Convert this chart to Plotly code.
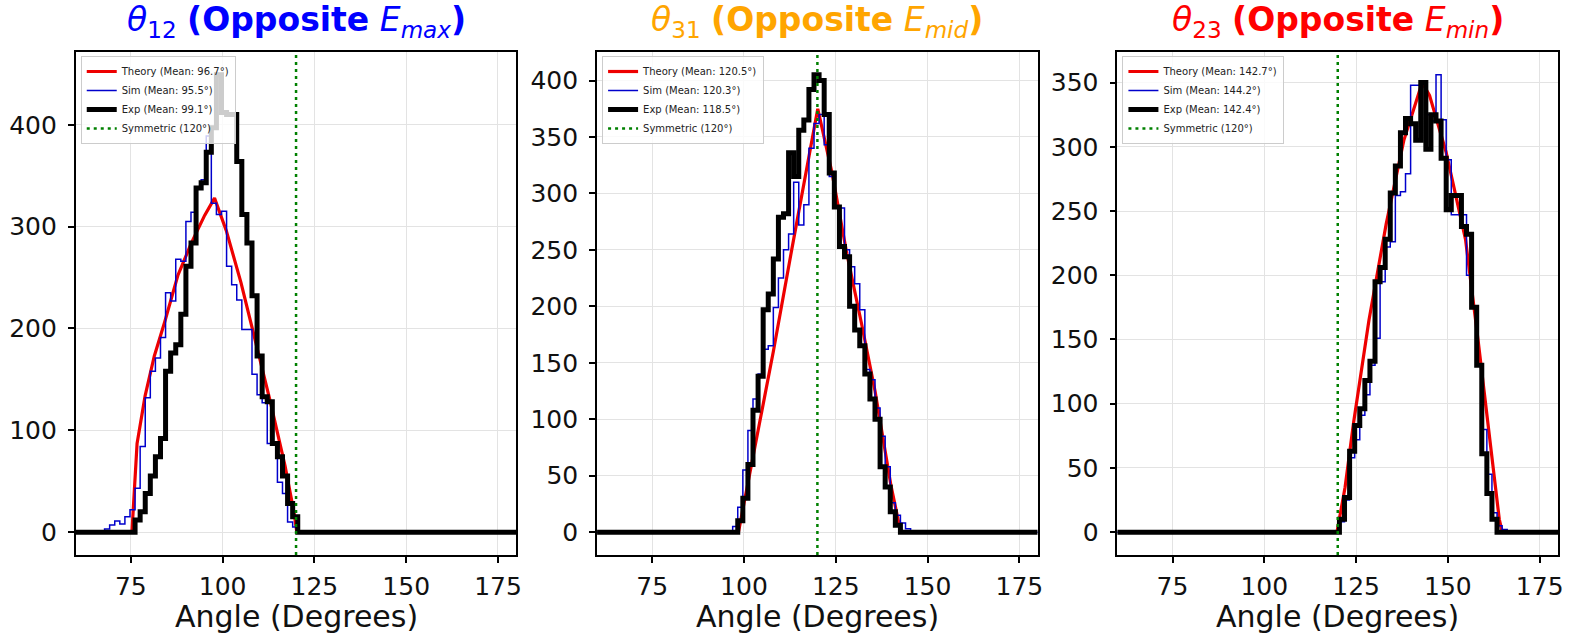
import numpy as np
import plotly.graph_objects as go

# Shared histogram binning: 130 equal bins over 0-180 degrees
BIN_EDGES = np.linspace(0.0, 180.0, 131)
ANGLE_TICKS = [75, 100, 125, 150, 175]
SYMMETRIC_ANGLE = 120

# ---- theta_12 (opposite E_max) ----
T12_SIM_FIRST_BIN = 48
T12_SIM_COUNTS = [1, 3, 7, 11, 8, 15, 22, 43, 84, 132, 158, 171, 191, 235, 227, 268, 266,
                  305, 314, 337, 346, 389, 323, 312, 315, 261, 243, 228, 199, 199, 155, 135,
                  127, 87, 87, 49, 38, 10, 5]
T12_EXP_FIRST_BIN = 55
T12_EXP_COUNTS = [12, 20, 38, 55, 74, 92, 158, 176, 184, 214, 261, 284, 338, 343, 373, 397,
                  449, 412, 410, 410, 364, 312, 284, 232, 173, 133, 128, 87, 74, 55, 28, 15]
T12_THEORY_ANGLE = [75.3, 76.7, 78.9, 81.4, 84.2, 87.8, 91.5, 95.1, 97.8, 101.0, 105.0,
                    109.0, 113.0, 117.0, 119.5, 120.2]
T12_THEORY_COUNT = [0, 87, 134, 173, 206, 252, 284, 311, 328, 296, 245, 188, 128, 65, 18, 0]
T12_MEANS = [96.7, 95.5, 99.1]  # theory, sim, exp

# ---- theta_31 (opposite E_mid) ----
T31_SIM_FIRST_BIN = 70
T31_SIM_COUNTS = [5, 22, 55, 90, 118, 140, 162, 165, 199, 225, 250, 264, 310, 272, 290, 340,
                  362, 370, 343, 315, 288, 287, 250, 235, 220, 197, 144, 135, 110, 85, 58, 26,
                  15, 8, 3]
T31_EXP_FIRST_BIN = 71
T31_EXP_COUNTS = [10, 30, 60, 108, 138, 197, 211, 242, 279, 282, 336, 315, 356, 365, 392, 405,
                  400, 370, 318, 288, 253, 244, 200, 179, 165, 140, 118, 100, 58, 40, 18, 6]
T31_THEORY_ANGLE = [98.5, 103.0, 108.0, 113.0, 117.5, 120.1, 124.0, 128.0, 132.0, 135.7,
                    140.0, 142.5, 143.0]
T31_THEORY_COUNT = [0, 75, 160, 250, 330, 375, 318, 247, 185, 125, 42, 3, 0]
T31_MEANS = [120.5, 120.3, 118.5]

# ---- theta_23 (opposite E_min) ----
T23_SIM_FIRST_BIN = 87
T23_SIM_COUNTS = [8, 25, 58, 72, 91, 107, 130, 151, 195, 222, 226, 262, 265, 279, 348, 348,
                  350, 325, 320, 356, 321, 290, 247, 247, 247, 200, 175, 131, 80, 45, 15, 5, 2]
T23_EXP_FIRST_BIN = 87
T23_EXP_COUNTS = [10, 27, 63, 83, 96, 118, 133, 195, 206, 228, 264, 285, 311, 322, 318, 305,
                  350, 298, 325, 320, 291, 251, 262, 262, 238, 232, 175, 130, 61, 30, 10]
T23_THEORY_ANGLE = [119.8, 122.0, 124.3, 128.5, 133.2, 138.0, 143.0, 145.0, 149.5, 154.8,
                    158.2, 161.5, 164.0, 164.8]
T23_THEORY_COUNT = [0, 35, 85, 165, 240, 305, 350, 340, 296, 228, 150, 70, 10, 0]
T23_MEANS = [142.7, 144.2, 142.4]

PANELS = [
    dict(sub="12", e_sub="max", color="#0000ff",
         sim=(T12_SIM_FIRST_BIN, T12_SIM_COUNTS), exp=(T12_EXP_FIRST_BIN, T12_EXP_COUNTS),
         theory=(T12_THEORY_ANGLE, T12_THEORY_COUNT), means=T12_MEANS, dtick=100),
    dict(sub="31", e_sub="mid", color="#ffa500",
         sim=(T31_SIM_FIRST_BIN, T31_SIM_COUNTS), exp=(T31_EXP_FIRST_BIN, T31_EXP_COUNTS),
         theory=(T31_THEORY_ANGLE, T31_THEORY_COUNT), means=T31_MEANS, dtick=50),
    dict(sub="23", e_sub="min", color="#ff0000",
         sim=(T23_SIM_FIRST_BIN, T23_SIM_COUNTS), exp=(T23_EXP_FIRST_BIN, T23_EXP_COUNTS),
         theory=(T23_THEORY_ANGLE, T23_THEORY_COUNT), means=T23_MEANS, dtick=50),
]

W, H = 1574, 636
X_DOMAINS = [(76, 518), (599, 1041), (1121, 1563)]
PLOT_TOP, PLOT_BOTTOM = 52, 555
FONT = "DejaVu Sans"


def step_xy(first_bin, counts):
    """Outline of a step histogram over the whole 0-180 bin range."""
    n = len(counts)
    edges = BIN_EDGES[first_bin:first_bin + n + 1]
    xs = [BIN_EDGES[0]] + list(edges) + [BIN_EDGES[-1]]
    ys = [0] + list(counts) + [0, 0]
    return xs, ys


fig = go.Figure()
layout = dict(
    width=W, height=H, margin=dict(l=0, r=0, t=0, b=0),
    paper_bgcolor="white", plot_bgcolor="white",
    font=dict(family=FONT, color="#111111"),
    showlegend=True, annotations=[],
)

for i, p in enumerate(PANELS):
    n = i + 1
    sfx = "" if n == 1 else str(n)
    xa, ya = f"x{sfx}", f"y{sfx}"
    leg = "legend" if n == 1 else f"legend{n}"

    ymax = max(max(p["sim"][1]), max(p["exp"][1]), max(p["theory"][1]))
    yrange = [-0.05 * ymax, 1.05 * ymax]

    t_mean, s_mean, e_mean = p["means"]
    fig.add_trace(go.Scatter(
        x=p["theory"][0], y=p["theory"][1], mode="lines",
        line=dict(color="#ee0000", width=3.2),
        name=f"Theory (Mean: {t_mean}°)", xaxis=xa, yaxis=ya, legend=leg))
    sx, sy = step_xy(*p["sim"])
    fig.add_trace(go.Scatter(
        x=sx, y=sy, mode="lines", line=dict(color="#0000cc", width=1.5, shape="hv"),
        name=f"Sim (Mean: {s_mean}°)", xaxis=xa, yaxis=ya, legend=leg))
    ex, ey = step_xy(*p["exp"])
    fig.add_trace(go.Scatter(
        x=ex, y=ey, mode="lines", line=dict(color="black", width=5, shape="hv"),
        name=f"Exp (Mean: {e_mean}°)", xaxis=xa, yaxis=ya, legend=leg))
    fig.add_trace(go.Scatter(
        x=[SYMMETRIC_ANGLE, SYMMETRIC_ANGLE], y=yrange, mode="lines",
        line=dict(color="#008000", width=2.5, dash="3px,4px"),
        name=f"Symmetric ({SYMMETRIC_ANGLE}°)", xaxis=xa, yaxis=ya, legend=leg))

    x0, x1 = X_DOMAINS[i]
    layout[f"xaxis{sfx}"] = dict(
        domain=[x0 / W, x1 / W], range=[60, 180], anchor=ya,
        tickvals=ANGLE_TICKS, ticks="outside", ticklen=6, tickwidth=1.5, tickcolor="black",
        tickfont=dict(size=25, family=FONT, color="#111111"), ticklabelstandoff=2,
        showline=True, linecolor="black", linewidth=1.8, mirror=True,
        showgrid=True, gridcolor="#e3e3e3", gridwidth=1, zeroline=False)
    layout[f"yaxis{sfx}"] = dict(
        domain=[1 - PLOT_BOTTOM / H, 1 - PLOT_TOP / H], range=yrange, anchor=xa,
        dtick=p["dtick"], tick0=0, ticks="outside", ticklen=6, tickwidth=1.5,
        tickcolor="black", tickfont=dict(size=25, family=FONT, color="#111111"),
        ticklabelstandoff=6,
        showline=True, linecolor="black", linewidth=1.8, mirror=True,
        showgrid=True, gridcolor="#e3e3e3", gridwidth=1, zeroline=False)
    layout[leg] = dict(
        x=(x0 + 5) / W, y=1 - (PLOT_TOP + 4) / H, xanchor="left", yanchor="top",
        bgcolor="rgba(255,255,255,0.8)", bordercolor="#cccccc", borderwidth=1,
        font=dict(size=10, family=FONT, color="#222222"), itemwidth=30,
        tracegroupgap=0)

    title = (f"<i>θ</i><sub>{p['sub']}</sub> <b>(Opposite</b> "
             f"<i>E</i><sub><i>{p['e_sub']}</i></sub><b>)</b>")
    layout["annotations"].append(dict(
        text=title, x=(x0 + x1) / 2 / W, y=1 - 22 / H, xref="paper", yref="paper",
        xanchor="center", yanchor="middle", showarrow=False,
        font=dict(size=33, family=FONT, color=p["color"])))
    layout["annotations"].append(dict(
        text="Angle (Degrees)", x=(x0 + x1) / 2 / W, y=1 - 616 / H,
        xref="paper", yref="paper", xanchor="center", yanchor="middle",
        showarrow=False, font=dict(size=30, family=FONT, color="#111111")))

fig.update_layout(**layout)
fig.write_html("out.html")
